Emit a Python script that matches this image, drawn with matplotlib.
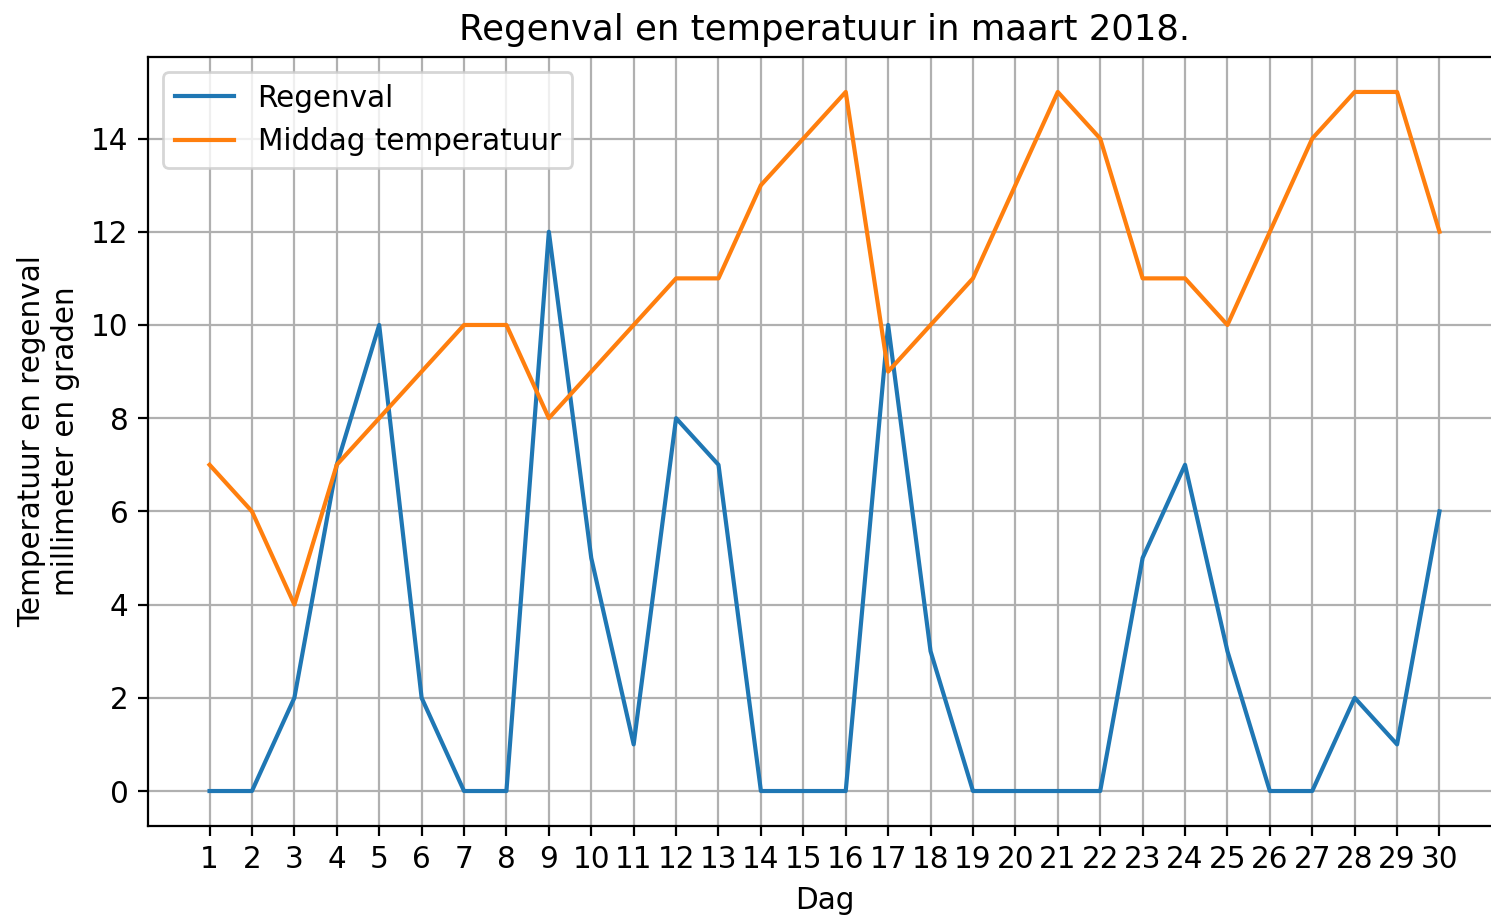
# Regenval en middagtemperatuur per dag, maart 2018
import matplotlib
matplotlib.use("Agg")
import matplotlib.pyplot as plt

# Data per dag
dagen = list(range(1, 31))
regenval = [0, 0, 2, 7, 10, 2, 0, 0, 12, 5, 1, 8, 7, 0, 0,
            0, 10, 3, 0, 0, 0, 0, 5, 7, 3, 0, 0, 2, 1, 6]
temperatuur = [7, 6, 4, 7, 8, 9, 10, 10, 8, 9, 10, 11, 11, 13, 14,
               15, 9, 10, 11, 13, 15, 14, 11, 11, 10, 12, 14, 15, 15, 12]

plt.rcParams['font.size'] = 10.65

dpi = 200
fig = plt.figure(figsize=(1491 / dpi, 915 / dpi), dpi=dpi)
# the original image is cut off at the right edge, so the axes run past it
ax = fig.add_axes([0.0993, 0.0973, 0.9074, 0.8404])

ax.plot(dagen, regenval, color='#1f77b4', linewidth=1.5, label='Regenval')
ax.plot(dagen, temperatuur, color='#ff7f0e', linewidth=1.5, label='Middag temperatuur')

ax.set_xticks(dagen)
ax.set_yticks(range(0, 16, 2))
ax.set_ylim(-0.75, 15.75)
ax.grid(True, color='#b0b0b0', linewidth=0.8)

ax.set_title('Regenval en temperatuur in maart 2018.', fontsize=12.8)
ax.set_xlabel('Dag')
ax.set_ylabel('Temperatuur en regenval\nmillimeter en graden')
ax.legend(loc='upper left')

fig.savefig('out.png', dpi=dpi)
